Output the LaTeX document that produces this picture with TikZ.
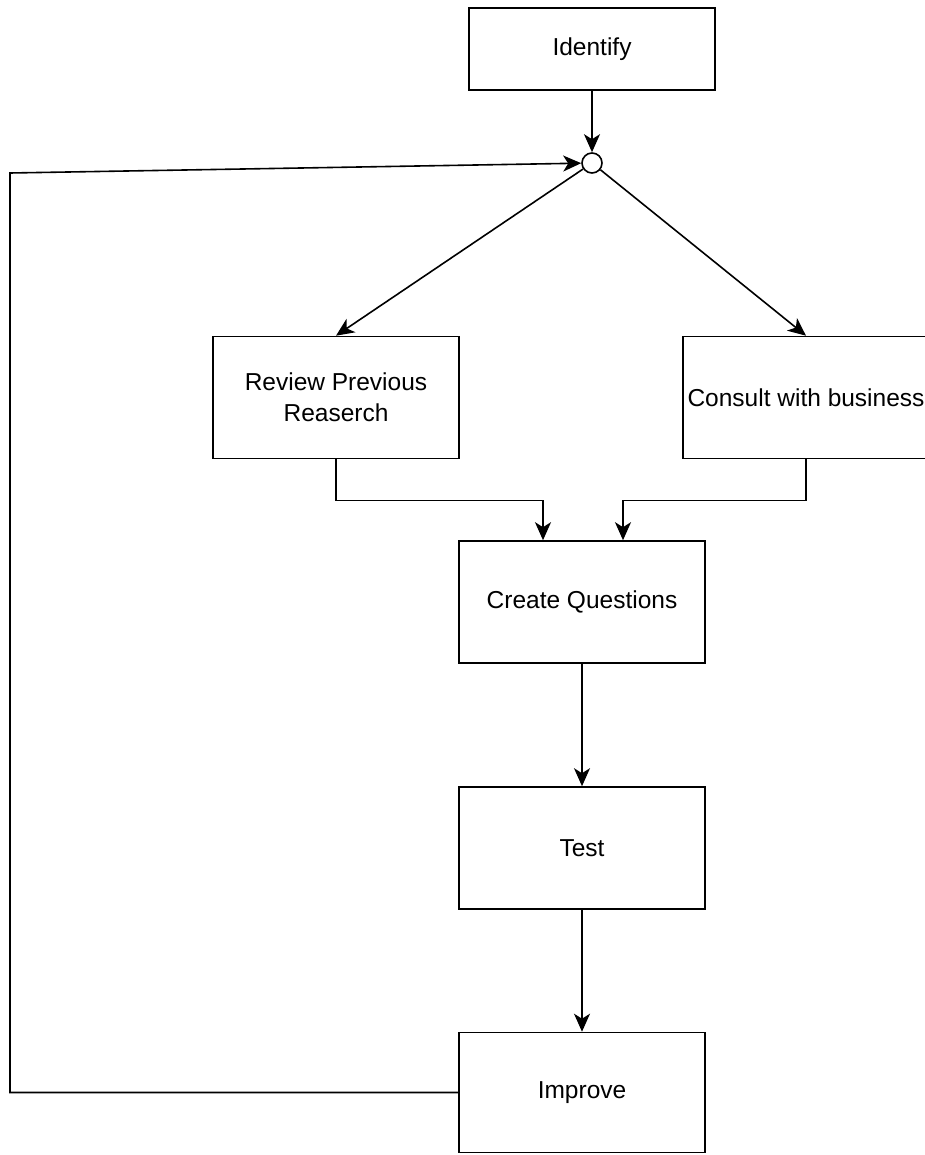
\documentclass[tikz,border=0pt]{standalone}
\usepackage{fontspec}
\setmainfont{Liberation Sans}
\usetikzlibrary{arrows.meta,calc}
\begin{document}
\begin{tikzpicture}[x=1pt,y=-1pt,
  box/.style={draw,line width=1.6pt,minimum width=246pt,minimum height=122pt,inner sep=0pt,align=center,font=\fontsize{24.5}{31}\selectfont},
  arr/.style={line width=1.6pt,-{Stealth[length=18pt,width=16pt,inset=5pt]}},
  ln/.style={line width=1.6pt}]
\useasboundingbox (0,0) rectangle (925,1155);
\clip (0,0) rectangle (925,1155);
\fill[white] (0,0) rectangle (925,1155);
\node[box,minimum height=82pt] (identify) at (592,49) {Identify};
\node[draw,circle,line width=1.6pt,fill=white,minimum size=20pt,inner sep=0pt] (c) at (592,163) {};
\node[box] (review) at (336,397.5) {Review Previous\\Reaserch};
\node[box] (consult) at (806,397.5) {Consult with business};
\node[box] (create) at (582,602) {Create Questions};
\node[box] (test) at (582,848) {Test};
\node[box,minimum height=120pt] (improve) at (582,1092.5) {Improve};
\coordinate (lb) at (10,1092.5);
\coordinate (lt) at (10,173);
\draw[arr] (identify.south) -- (c.north);
\draw[arr] (improve.west) -- (lb) -- (lt) -- (c);
\draw[arr] (c) -- (review.north);
\draw[arr] (c) -- (consult.north);
\draw[arr] (review.south) -- ++(0,41) -| ([xshift=-39pt]create.north);
\draw[arr] (consult.south) -- ++(0,41) -| ([xshift=41pt]create.north);
\draw[arr] (create.south) -- (test.north);
\draw[arr] (test.south) -- (improve.north);
\end{tikzpicture}
\end{document}
